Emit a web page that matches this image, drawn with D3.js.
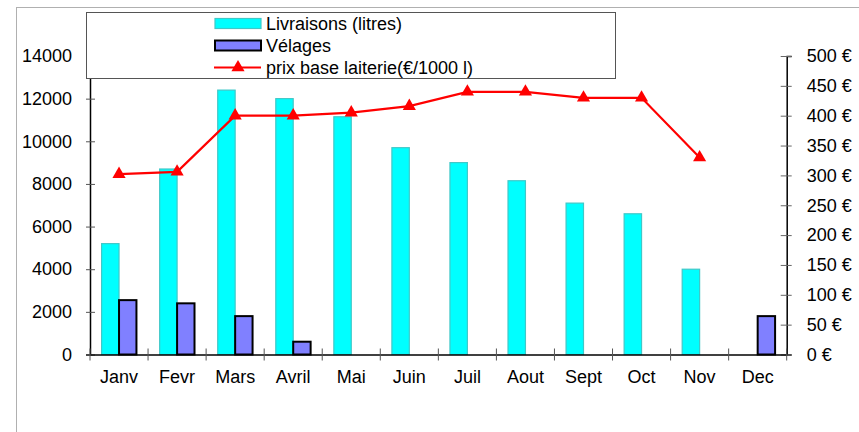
<!DOCTYPE html>
<html>
<head>
<meta charset="utf-8">
<script src="https://cdn.jsdelivr.net/npm/d3@7"></script>
<style>
body { margin: 0; background: #fff; }
svg { display: block; font-family: "Liberation Sans", Arial, sans-serif; }
</style>
</head>
<body>
<svg id="chart" width="859" height="432"></svg>
<script>
var months = ["Janv", "Fevr", "Mars", "Avril", "Mai", "Juin", "Juil", "Aout", "Sept", "Oct", "Nov", "Dec"];
var livraisons = [5200, 8700, 12400, 12000, 11150, 9700, 9000, 8150, 7100, 6600, 4000, 0];
var velages = [2550, 2400, 1800, 600, 0, 0, 0, 0, 0, 0, 0, 1800];
var prix = [302, 306, 400, 400, 405, 416, 440, 440, 430, 430, 330, null];
var leftTicks = [0, 2000, 4000, 6000, 8000, 10000, 12000, 14000];
var rightTicks = [0, 50, 100, 150, 200, 250, 300, 350, 400, 450, 500];
var legendLabels = ["Livraisons (litres)", "Vélages", "prix base laiterie(€/1000 l)"];

var cyan = "#00ffff";
var cyanEdge = "#40c8c8";
var purple = "#8080ff";
var red = "#ff0000";

var svg = d3.select("#chart");
var plotLeft = 90, plotRight = 786.7, plotTop = 56, plotBottom = 354.5;

var x = d3.scaleBand().domain(months).range([plotLeft, plotRight]);
var yL = d3.scaleLinear().domain([0, 14000]).range([plotBottom, plotTop]);
var yR = d3.scaleLinear().domain([0, 500]).range([plotBottom, plotTop]);
var barW = x.bandwidth() * 0.3;

// outer frame
svg.append("rect")
    .attr("x", 16.5).attr("y", 7.5)
    .attr("width", 900).attr("height", 500)
    .attr("fill", "none").attr("stroke", "#b0b0b0").attr("stroke-width", 1);

// bars
svg.append("g").selectAll("rect")
    .data(livraisons.map(function (v, i) { return { m: months[i], v: v }; }).filter(function (d) { return d.v > 0; }))
    .enter().append("rect")
    .attr("x", function (d) { return x(d.m) + x.bandwidth() / 2 - barW; })
    .attr("y", function (d) { return yL(d.v); })
    .attr("width", barW)
    .attr("height", function (d) { return plotBottom - yL(d.v); })
    .attr("fill", cyan).attr("stroke", cyanEdge).attr("stroke-width", 1.2);

svg.append("g").selectAll("rect")
    .data(velages.map(function (v, i) { return { m: months[i], v: v }; }).filter(function (d) { return d.v > 0; }))
    .enter().append("rect")
    .attr("x", function (d) { return x(d.m) + x.bandwidth() / 2; })
    .attr("y", function (d) { return yL(d.v); })
    .attr("width", barW)
    .attr("height", function (d) { return plotBottom - yL(d.v); })
    .attr("fill", purple).attr("stroke", "#000").attr("stroke-width", 2);

// left axis
var axL = svg.append("g")
    .attr("transform", "translate(" + plotLeft + ",0)")
    .call(d3.axisLeft(yL).tickValues(leftTicks).tickSize(4).tickPadding(14).tickFormat(d3.format("d")));
axL.select(".domain").attr("stroke", "#000").attr("stroke-width", 1.5);
axL.selectAll(".tick line").attr("x1", 5).attr("stroke", "#555");
axL.selectAll("text").attr("font-size", 18).attr("fill", "#000")
    .attr("font-family", "Liberation Sans, Arial, sans-serif");

// right axis
var axR = svg.append("g")
    .attr("transform", "translate(" + plotRight + ",0)")
    .call(d3.axisRight(yR).tickValues(rightTicks).tickSize(5).tickPadding(15).tickFormat(function (d) { return d + " €"; }));
axR.select(".domain").attr("stroke", "#000").attr("stroke-width", 1.5);
axR.selectAll(".tick line").attr("x1", -6).attr("stroke", "#666");
axR.selectAll("text").attr("font-size", 18).attr("fill", "#000")
    .attr("font-family", "Liberation Sans, Arial, sans-serif");

// x axis
var axX = svg.append("g")
    .attr("transform", "translate(0," + plotBottom + ")")
    .call(d3.axisBottom(x).tickSize(0).tickPadding(16));
axX.select(".domain").attr("stroke", "#000").attr("stroke-width", 1.5);
axX.selectAll("text").attr("font-size", 18).attr("fill", "#000")
    .attr("font-family", "Liberation Sans, Arial, sans-serif");
var sepTicks = months.map(function (m) { return x(m); }).concat([plotRight]);
svg.append("g").selectAll("line")
    .data(sepTicks)
    .enter().append("line")
    .attr("x1", function (d) { return d; }).attr("x2", function (d) { return d; })
    .attr("y1", plotBottom - 6).attr("y2", plotBottom + 6)
    .attr("stroke", "#555").attr("stroke-width", 1);

// price line
var pts = prix.map(function (p, i) { return { m: months[i], p: p }; }).filter(function (d) { return d.p !== null; });
var line = d3.line()
    .x(function (d) { return x(d.m) + x.bandwidth() / 2; })
    .y(function (d) { return yR(d.p); });
svg.append("path").datum(pts)
    .attr("d", line)
    .attr("fill", "none").attr("stroke", red).attr("stroke-width", 2.2);
var tri = d3.symbol().type(d3.symbolTriangle).size(75);
svg.append("g").selectAll("path")
    .data(pts)
    .enter().append("path")
    .attr("d", tri)
    .attr("transform", function (d) { return "translate(" + (x(d.m) + x.bandwidth() / 2) + "," + yR(d.p) + ")"; })
    .attr("fill", red);

// legend
var lg = svg.append("g");
lg.append("rect")
    .attr("x", 86.5).attr("y", 12.5).attr("width", 529).attr("height", 66)
    .attr("fill", "#fff").attr("stroke", "#555").attr("stroke-width", 1);
var rowY = [23.5, 45.5, 67.5];
lg.append("rect").attr("x", 215).attr("y", rowY[0] - 5).attr("width", 46).attr("height", 10)
    .attr("fill", cyan).attr("stroke", cyanEdge).attr("stroke-width", 1.2);
lg.append("rect").attr("x", 215).attr("y", rowY[1] - 5).attr("width", 46).attr("height", 10)
    .attr("fill", purple).attr("stroke", "#000").attr("stroke-width", 2);
lg.append("line").attr("x1", 214).attr("x2", 261).attr("y1", rowY[2]).attr("y2", rowY[2])
    .attr("stroke", red).attr("stroke-width", 2.2);
lg.append("path").attr("d", tri).attr("transform", "translate(238," + rowY[2] + ")").attr("fill", red);
lg.selectAll("text")
    .data(legendLabels)
    .enter().append("text")
    .attr("x", 266)
    .attr("y", function (d, i) { return rowY[i] + 6; })
    .attr("font-size", 18)
    .attr("fill", "#000")
    .text(function (d) { return d; });
</script>
</body>
</html>
